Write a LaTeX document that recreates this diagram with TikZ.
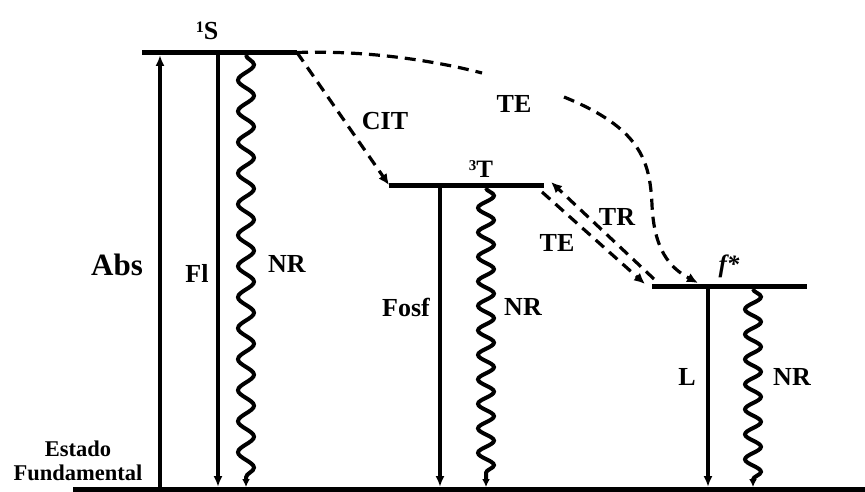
\documentclass[tikz,border=0pt]{standalone}
\usepackage{fontspec}
\setmainfont{Liberation Serif}
\usetikzlibrary{arrows.meta,decorations.pathmorphing}
\begin{document}
\begin{tikzpicture}[x=1pt,y=-1pt,
 level/.style={line width=5pt},
 trans/.style={line width=3.2pt,-{Latex[length=11pt,width=9pt]}},
 wave/.style={line width=4pt, decorate, decoration={snake,amplitude=8pt,segment length=#1,post length=7pt}, -{Latex[length=8pt,width=8pt]}},
 dsh/.style={line width=3.2pt, dash pattern=on 11pt off 7pt},
 dsharrow/.style={dsh, -{Latex[length=11pt,width=10pt]}},
 lbl/.style={font=\fontsize{26}{30}\selectfont\bfseries, inner sep=0pt}
]
\useasboundingbox (0,0) rectangle (865,492);

% levels
\coordinate (S1L) at (142,52.5);  \coordinate (S1R) at (297,52.5);
\coordinate (T3L) at (389,185);   \coordinate (T3R) at (544,185);
\coordinate (FL)  at (652,286);   \coordinate (FR)  at (807,286);
\coordinate (GL)  at (73,489);    \coordinate (GR)  at (865,489);
\draw[level] (S1L) -- (S1R);
\draw[level] (T3L) -- (T3R);
\draw[level] (FL) -- (FR);
\draw[level] (GL) -- (GR);

% level labels
\node[lbl, font=\fontsize{26}{28}\selectfont\bfseries] (s1) at (207,31) {\raisebox{0.25em}{\fontsize{16}{16}\selectfont 1}S};
\node[lbl, font=\fontsize{25}{28}\selectfont\bfseries] (t3) at (481,169) {\raisebox{0.25em}{\fontsize{15}{15}\selectfont 3}T};
\node[lbl, font=\fontsize{25}{28}\selectfont\bfseries\itshape] (fs) at (729,266) {f*};
\node[lbl, font=\fontsize{22.5}{24}\selectfont\bfseries, align=center] (gs) at (78,461) {Estado\\Fundamental};

% transitions from 1S
\coordinate (absB) at (160,487); \coordinate (absT) at (160,55);
\draw[trans] (absB) -- (absT);
\coordinate (flT) at (218,55); \coordinate (flB) at (218,487);
\draw[trans] (flT) -- (flB);
\coordinate (nr1T) at (246,55); \coordinate (nr1B) at (246,487);
\draw[wave=31pt] (nr1T) -- (nr1B);
\node[lbl, font=\fontsize{31}{34}\selectfont\bfseries] (abs) at (117,265) {Abs};
\node[lbl] (fl) at (197,273) {Fl};
\node[lbl] (nr1) at (287,264) {NR};

% transitions from 3T
\coordinate (fosT) at (440,188); \coordinate (fosB) at (440,487);
\draw[trans] (fosT) -- (fosB);
\coordinate (nr2T) at (486,188); \coordinate (nr2B) at (486,487);
\draw[wave=24.5pt] (nr2T) -- (nr2B);
\node[lbl] (fos) at (406,307) {Fosf};
\node[lbl] (nr2) at (523,307) {NR};

% transitions from f*
\coordinate (lT) at (708,289); \coordinate (lB) at (708,487);
\draw[trans] (lT) -- (lB);
\coordinate (nr3T) at (753,289); \coordinate (nr3B) at (753,487);
\draw[wave=25pt] (nr3T) -- (nr3B);
\node[lbl] (l) at (687,377) {L};
\node[lbl] (nr3) at (792,377) {NR};

% CIT
\draw[dsharrow] (S1R) -- (T3L);
\node[lbl] (cit) at (385,121) {CIT};

% TE long curve (with gap for label)
\coordinate (teA) at (482,73);
\coordinate (teB) at (564,97);
\coordinate (teEnd) at (698,283);
\draw[dsh] (S1R) .. controls (370,50) and (440,62) .. (teA);
\draw[dsharrow] (teB) .. controls (640,128) and (650,160) .. (652,205)
   .. controls (654,250) and (670,268) .. (teEnd);
\node[lbl] (te1) at (514,104) {TE};

% TE / TR double arrows
\coordinate (trTail) at (654,279); \coordinate (trHead) at (551,182);
\coordinate (teTail) at (542,192); \coordinate (teHead) at (645,284);
\draw[dsharrow] (trTail) -- (trHead);
\draw[dsharrow] (teTail) -- (teHead);
\node[lbl] (tr) at (617,217) {TR};
\node[lbl] (te2) at (557,243) {TE};
\end{tikzpicture}
\end{document}
